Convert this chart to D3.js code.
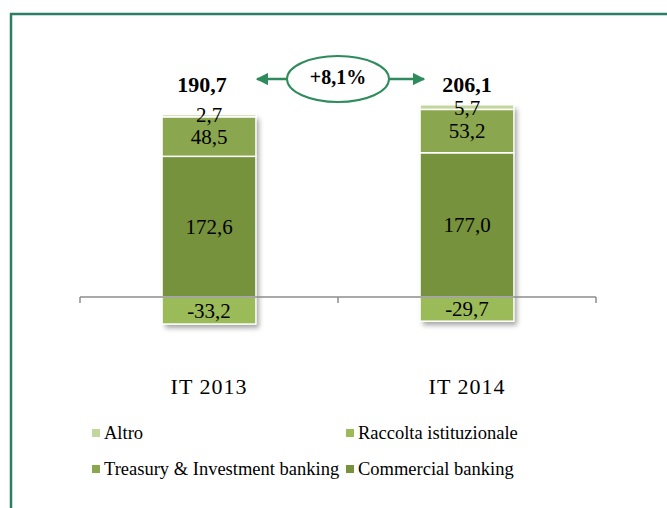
<!DOCTYPE html>
<html><head><meta charset="utf-8">
<script src="https://cdn.jsdelivr.net/npm/d3@7"></script>
<style>body{margin:0;background:#fff}svg{display:block}text{font-family:"Liberation Serif","Times New Roman",serif}</style>
</head><body><svg id="c" width="667" height="508"></svg>
<script>
const categories = ["IT 2013", "IT 2014"];
const seriesNames = ["Altro", "Raccolta istituzionale", "Treasury & Investment banking", "Commercial banking"];
const altro = [2.7, 5.7];
const raccolta = [-33.2, -29.7];
const treasury = [48.5, 53.2];
const commercial = [172.6, 177.0];
const totals = ["190,7", "206,1"];
const growth = "+8,1%";
const colors = ["#C3D69B", "#9BBB59", "#8AA64E", "#76923C"];

const fmt = v => d3.format(".1f")(v).replace(".", ",").replace("\u2212", "-");
const svg = d3.select("#c");
const defs = svg.append("defs");
const f = defs.append("filter").attr("id","sh").attr("x","-20%").attr("y","-20%").attr("width","150%").attr("height","150%");
f.append("feDropShadow").attr("dx",3).attr("dy",4).attr("stdDeviation",2.5).attr("flood-color","#000").attr("flood-opacity",0.35);
const mk = defs.append("marker").attr("id","ah").attr("viewBox","0 0 10 10").attr("refX",9).attr("refY",5)
  .attr("markerWidth",5).attr("markerHeight",5).attr("orient","auto-start-reverse").attr("markerUnits","strokeWidth");
mk.append("path").attr("d","M0,0L10,5L0,10Z").attr("fill","#2E8B5C");

// frame
svg.append("path").attr("d","M11,508V14H667").attr("fill","none").attr("stroke","#2E7D66").attr("stroke-width",2.5);

const x = d3.scaleBand().domain(categories).range([80, 596]).paddingInner(0.636).paddingOuter(0.318);
const y = d3.scaleLinear().domain([-40, 230]).range([297 + 40*0.815, 297 - 230*0.815]);

const seriesVals = [altro, raccolta, treasury, commercial];
const order = [3, 2, 1, 0];
const segs = [];
categories.forEach((c, i) => {
  let pos = 0, neg = 0;
  order.forEach(s => {
    const v = seriesVals[s][i];
    let y0, y1;
    if (v >= 0) { y0 = pos; y1 = pos + v; pos = y1; } else { y1 = neg; y0 = neg + v; neg = y0; }
    segs.push({c, i, s, v, y0, y1});
  });
});

const gb = svg.append("g");
categories.forEach(c => {
  const ss = segs.filter(d => d.c === c);
  const lo = d3.min(ss, d => d.y0), hi = d3.max(ss, d => d.y1);
  gb.append("rect").attr("x", x(c)).attr("y", y(hi)).attr("width", x.bandwidth()).attr("height", y(lo)-y(hi))
    .attr("fill","#fff").attr("filter","url(#sh)");
});
gb.selectAll("rect.seg").data(segs).join("rect").attr("class","seg")
  .attr("x", d => x(d.c)).attr("width", x.bandwidth())
  .attr("y", d => y(d.y1)).attr("height", d => y(d.y0) - y(d.y1))
  .attr("fill", d => colors[d.s]).attr("stroke","#fff").attr("stroke-width",1.5);

// axis
const ax = svg.append("g").attr("stroke","#8C8C8C").attr("stroke-width",1.5);
const [r0, r1] = x.range();
ax.append("line").attr("x1", r0).attr("x2", r1).attr("y1", y(0)).attr("y2", y(0));
[r0, (r0+r1)/2, r1].forEach(t => ax.append("line").attr("x1", t).attr("x2", t).attr("y1", y(0)).attr("y2", y(0)+6));

// segment labels
svg.append("g").selectAll("text").data(segs).join("text")
  .attr("x", d => x(d.c) + x.bandwidth()/2)
  .attr("y", d => d.s === 0 ? y(d.y0) - 2 : y((d.y0 + d.y1)/2))
  .attr("dy", "0.35em").attr("text-anchor","middle").attr("font-size", 21).attr("fill","#000")
  .text(d => fmt(d.v));

// totals
svg.append("g").selectAll("text").data(categories).join("text")
  .attr("x", (c, i) => x(c) + x.bandwidth()/2 + (i === 0 ? -7 : 0)).attr("y", 92)
  .attr("text-anchor","middle").attr("font-size", 22).attr("font-weight","bold").text((c, i) => totals[i]);

// growth annotation
const cx = (x(categories[0]) + x(categories[1]) + x.bandwidth()) / 2;
const g = svg.append("g");
g.append("ellipse").attr("cx", cx).attr("cy", 79).attr("rx", 51).attr("ry", 23).attr("fill","#fff").attr("stroke","#2E8B5C").attr("stroke-width",2);
g.append("line").attr("x1", cx-51).attr("x2", 257).attr("y1", 79).attr("y2", 79).attr("stroke","#2E8B5C").attr("stroke-width",2.5).attr("marker-end","url(#ah)");
g.append("line").attr("x1", cx+51).attr("x2", 424).attr("y1", 79).attr("y2", 79).attr("stroke","#2E8B5C").attr("stroke-width",2.5).attr("marker-end","url(#ah)");
g.append("text").attr("x", cx).attr("y", 84).attr("text-anchor","middle").attr("font-size", 20).attr("font-weight","bold").text(growth);

// category labels
svg.append("g").selectAll("text").data(categories).join("text")
  .attr("x", c => x(c) + x.bandwidth()/2).attr("y", 394).attr("text-anchor","middle")
  .attr("font-size", 22).attr("letter-spacing", 1).text(c => c);

// legend
const legPos = [[92, 433], [346, 433], [92, 469], [346, 469]];
const lg = svg.append("g").selectAll("g").data(seriesNames).join("g")
  .attr("transform", (d, i) => `translate(${legPos[i][0]},${legPos[i][1]})`);
lg.append("rect").attr("x", 0).attr("y", -4).attr("width", 8).attr("height", 8).attr("fill", (d, i) => colors[i]);
lg.append("text").attr("x", 12).attr("y", 0).attr("dy", "0.35em").attr("font-size", 18.5).text(d => d);
</script></body></html>
